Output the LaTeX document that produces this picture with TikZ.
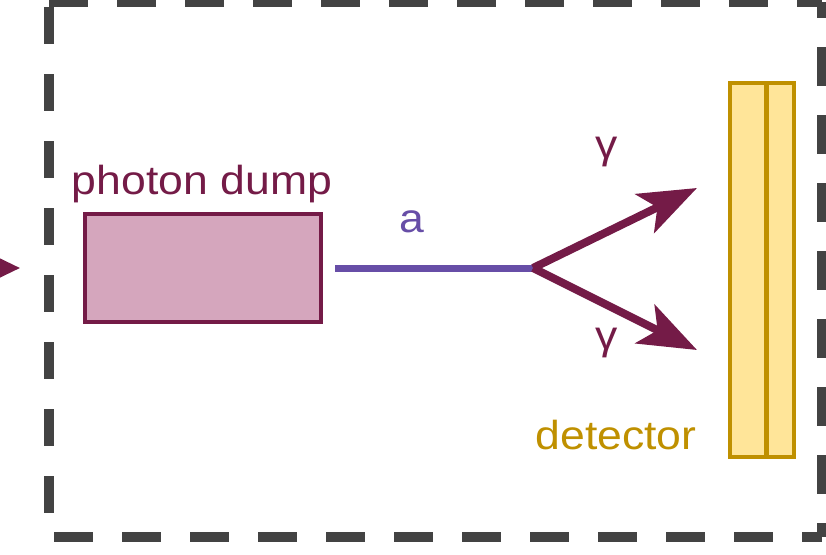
\documentclass[tikz,border=0pt]{standalone}
\usepackage{fontspec}
\setmainfont{Liberation Sans}[FakeStretch=1.1]
\usetikzlibrary{arrows.meta}

\definecolor{maroon}{HTML}{741B47}
\definecolor{dumppink}{HTML}{D5A6BD}
\definecolor{axionpurple}{HTML}{674EA7}
\definecolor{detfill}{HTML}{FFE599}
\definecolor{detgold}{HTML}{BF9000}
\definecolor{framegray}{HTML}{434343}

\tikzset{
  framedash/.style={draw=framegray, line width=10pt},
  dumpbox/.style={draw=maroon, fill=dumppink, line width=4pt, minimum width=236pt, minimum height=108pt, inner sep=0pt, outer sep=0pt},
  detbox/.style={draw=detgold, fill=detfill, line width=4.5pt, minimum width=64pt, minimum height=374pt, inner sep=0pt, outer sep=0pt},
  detline/.style={draw=detgold, line width=4.5pt},
  axionline/.style={draw=axionpurple, line width=7pt},
  photonarrow/.style={draw=maroon, line width=8pt, -{Stealth[length=58pt,width=43pt,inset=14pt,fill=maroon]}},
  beamarrow/.style={draw=maroon, line width=8pt, -{Stealth[length=40pt,width=38pt,inset=10pt,fill=maroon]}},
  lbl/.style={font=\fontsize{40.5}{42}\selectfont, inner sep=0pt, anchor=base},
}

\begin{document}
\begin{tikzpicture}[x=1pt, y=-1pt]
  \useasboundingbox (0,0) rectangle (826,554);
  \clip (0,0) rectangle (826,554);

  % dashed enclosure, one side at a time
  \coordinate (tl) at (49,2);
  \coordinate (tr) at (822,2);
  \coordinate (bl) at (49,537);
  \coordinate (br) at (822,537);
  \draw[framedash, dash pattern=on 39pt off 29pt, dash phase=0pt] (tl) -- (tr);
  \draw[framedash, dash pattern=on 37pt off 30pt, dash phase=62pt] (tl) -- (bl);
  \draw[framedash, dash pattern=on 39pt off 29pt, dash phase=63pt] (bl) -- (br);
  \draw[framedash, dash pattern=on 39pt off 29pt, dash phase=23pt] (tr) -- (br);

  % incoming beam from the left
  \coordinate (beamsrc) at (-80,268);
  \coordinate (beamtip) at (20,268);
  \draw[beamarrow] (beamsrc) -- (beamtip);

  % photon dump
  \node[dumpbox] (dump) at (203,268) {};
  \node[lbl, text=maroon] (dumplbl) at (202,194) {photon dump};

  % axion line and its decay vertex
  \coordinate (vertex) at (533,268);
  \draw[axionline, shorten <=14pt] (dump.east) -- (vertex);
  \node[lbl, text=axionpurple] (alabel) at (412,232) {a};

  % decay photons
  \coordinate (gtop) at (697,188);
  \coordinate (gbot) at (697,350);
  \draw[photonarrow] (vertex) -- (gtop);
  \draw[photonarrow] (vertex) -- (gbot);
  \node[lbl, text=maroon] (gtoplbl) at (607,158) {γ};
  \node[lbl, text=maroon] (gbotlbl) at (607,349) {γ};

  % detector
  \node[detbox] (det) at (762,270) {};
  \draw[detline] ([xshift=4.5pt]det.north) -- ([xshift=4.5pt]det.south);
  \node[lbl, text=detgold] (detlbl) at (616,449) {detector};
\end{tikzpicture}
\end{document}
